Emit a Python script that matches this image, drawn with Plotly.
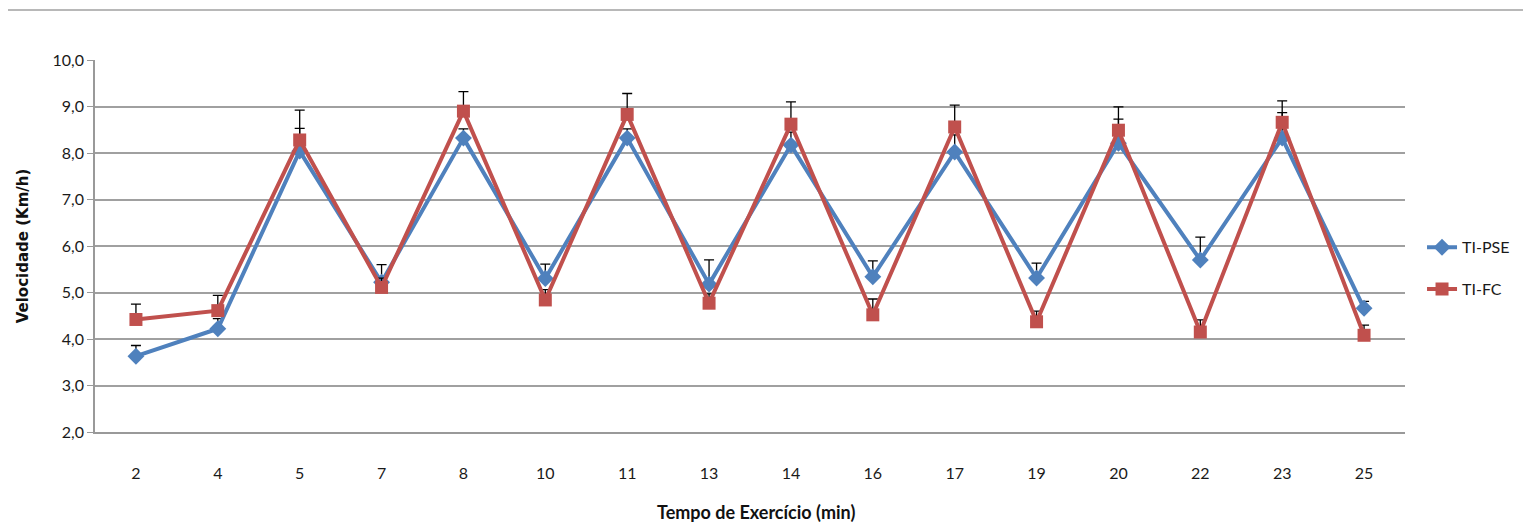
import plotly.graph_objects as go

categories = ["2", "4", "5", "7", "8", "10", "11", "13", "14", "16", "17", "19", "20", "22", "23", "25"]
pse_values = [3.63, 4.22, 8.04, 5.22, 8.32, 5.30, 8.32, 5.18, 8.17, 5.34, 8.02, 5.31, 8.21, 5.70, 8.32, 4.66]
pse_err = [0.23, 0.22, 0.49, 0.38, 0.20, 0.31, 0.20, 0.52, 0.28, 0.34, 0.37, 0.32, 0.52, 0.49, 0.55, 0.15]
fc_values = [4.42, 4.61, 8.28, 5.11, 8.90, 4.84, 8.83, 4.77, 8.62, 4.52, 8.56, 4.37, 8.49, 4.15, 8.66, 4.08]
fc_err = [0.33, 0.33, 0.64, 0.20, 0.42, 0.22, 0.45, 0.20, 0.48, 0.34, 0.47, 0.23, 0.50, 0.26, 0.46, 0.22]
zeros = [0] * len(categories)

blue = "#4F81BD"
red = "#C0504D"
font_family = "Lato, 'Open Sans', Arial, sans-serif"

# page offset compensation (browser body margin)
OFF = 8
L, T = 95 - OFF, 60 - OFF
PW, PH = 1310, 372

fig = go.Figure()
fig.add_trace(go.Scatter(
    x=categories, y=pse_values, name="TI-PSE", mode="lines+markers",
    line=dict(color=blue, width=4),
    marker=dict(symbol="diamond", size=13, color=blue),
    error_y=dict(type="data", array=pse_err, arrayminus=zeros, symmetric=False,
                 color="black", thickness=1.3, width=5),
    legendgroup="a",
))
fig.add_trace(go.Scatter(
    x=categories, y=fc_values, name="TI-FC", mode="lines+markers",
    line=dict(color=red, width=4),
    marker=dict(symbol="square", size=13, color=red),
    error_y=dict(type="data", array=fc_err, arrayminus=zeros, symmetric=False,
                 color="black", thickness=1.3, width=5),
    legendgroup="b",
))

fig.update_layout(
    width=1531, height=523,
    margin=dict(l=L, r=1531 - L - PW, t=T, b=523 - T - PH),
    plot_bgcolor="white", paper_bgcolor="white",
    font=dict(family=font_family, size=16, color="#1a1a1a"),
    separators=",.",
    showlegend=True,
    legend=dict(x=1.013, y=0.44, xanchor="left", yanchor="middle",
                font=dict(size=16, color="#1a1a1a"), tracegroupgap=18,
                bgcolor="rgba(0,0,0,0)"),
    xaxis=dict(
        type="category", categoryorder="array", categoryarray=categories,
        range=[-0.5, 15.5], showgrid=False, automargin=False,
        showline=True, linecolor="#999", linewidth=1.5,
        ticks="", ticklabelstandoff=26,
        tickfont=dict(size=16),
    ),
    yaxis=dict(
        range=[2, 10], dtick=1, tickformat=".1f", automargin=False,
        showgrid=True, gridcolor="#A0A0A0", gridwidth=1.5,
        showline=True, linecolor="#999", linewidth=1.5,
        ticks="outside", ticklen=6, tickcolor="#999",
        tickfont=dict(size=16),
        title=dict(text="<b>Velocidade (Km/h)</b>", standoff=20,
                   font=dict(family="DejaVu Sans", size=15, color="#111")),
        zeroline=False,
    ),
    annotations=[dict(text="<b>Tempo de Exercício (min)</b>", xref="paper", yref="paper",
                      x=(756 - 95) / PW, y=(432 - 512) / PH,
                      xanchor="center", yanchor="middle", showarrow=False,
                      font=dict(size=18, color="#111"))],
    shapes=[dict(type="line", xref="paper", yref="paper",
                 x0=-L / PW, x1=(1525 - OFF - L) / PW,
                 y0=(PH + T - (10 - OFF)) / PH, y1=(PH + T - (10 - OFF)) / PH,
                 line=dict(color="#A0A0A0", width=1.5))],
)

fig.write_html("out.html")
